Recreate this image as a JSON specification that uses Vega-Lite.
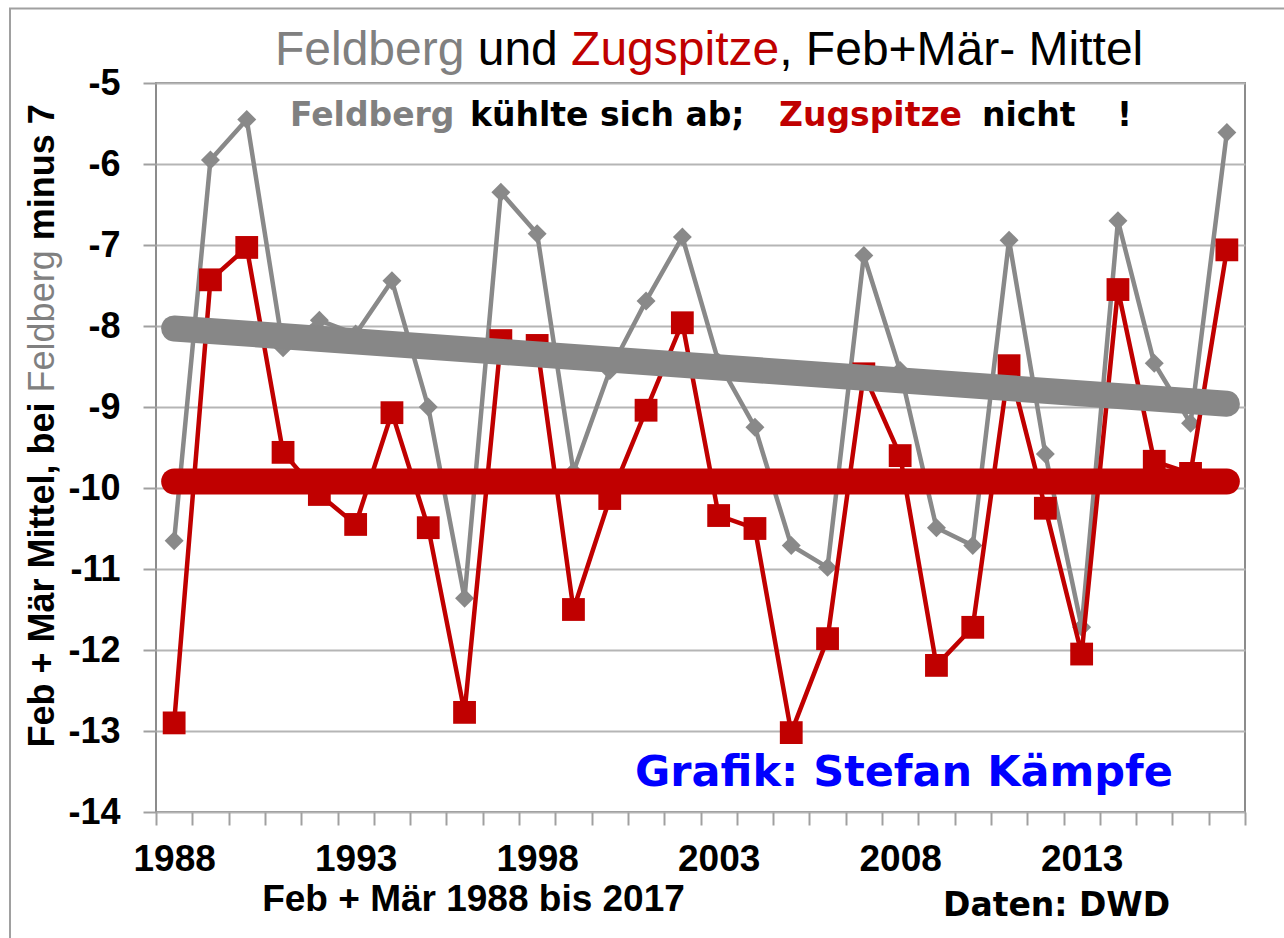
{
  "$schema": "https://vega.github.io/schema/vega-lite/v6.json",
  "width": 1089,
  "height": 729,
  "padding": {"left": 9, "top": 7, "right": 0, "bottom": 0},
  "background": "white",
  "config": {"view": {"stroke": "#8c8c8c", "strokeWidth": 2}, "font": "Liberation Sans"},
  "datasets": {
    "series": [
      {"year": 1988, "station": "Feldberg", "value": -10.65},
      {"year": 1989, "station": "Feldberg", "value": -5.95},
      {"year": 1990, "station": "Feldberg", "value": -5.45},
      {"year": 1991, "station": "Feldberg", "value": -8.27},
      {"year": 1992, "station": "Feldberg", "value": -7.93},
      {"year": 1993, "station": "Feldberg", "value": -8.1},
      {"year": 1994, "station": "Feldberg", "value": -7.44},
      {"year": 1995, "station": "Feldberg", "value": -9.0},
      {"year": 1996, "station": "Feldberg", "value": -11.36},
      {"year": 1997, "station": "Feldberg", "value": -6.35},
      {"year": 1998, "station": "Feldberg", "value": -6.86},
      {"year": 1999, "station": "Feldberg", "value": -9.8},
      {"year": 2000, "station": "Feldberg", "value": -8.55},
      {"year": 2001, "station": "Feldberg", "value": -7.69},
      {"year": 2002, "station": "Feldberg", "value": -6.9},
      {"year": 2003, "station": "Feldberg", "value": -8.45},
      {"year": 2004, "station": "Feldberg", "value": -9.25},
      {"year": 2005, "station": "Feldberg", "value": -10.71},
      {"year": 2006, "station": "Feldberg", "value": -10.98},
      {"year": 2007, "station": "Feldberg", "value": -7.13},
      {"year": 2008, "station": "Feldberg", "value": -8.55},
      {"year": 2009, "station": "Feldberg", "value": -10.49},
      {"year": 2010, "station": "Feldberg", "value": -10.71},
      {"year": 2011, "station": "Feldberg", "value": -6.94},
      {"year": 2012, "station": "Feldberg", "value": -9.58},
      {"year": 2013, "station": "Feldberg", "value": -11.72},
      {"year": 2014, "station": "Feldberg", "value": -6.7},
      {"year": 2015, "station": "Feldberg", "value": -8.46},
      {"year": 2016, "station": "Feldberg", "value": -9.2},
      {"year": 2017, "station": "Feldberg", "value": -5.61},
      {"year": 1988, "station": "Zugspitze", "value": -12.9},
      {"year": 1989, "station": "Zugspitze", "value": -7.43},
      {"year": 1990, "station": "Zugspitze", "value": -7.03},
      {"year": 1991, "station": "Zugspitze", "value": -9.56},
      {"year": 1992, "station": "Zugspitze", "value": -10.08},
      {"year": 1993, "station": "Zugspitze", "value": -10.45},
      {"year": 1994, "station": "Zugspitze", "value": -9.07},
      {"year": 1995, "station": "Zugspitze", "value": -10.49},
      {"year": 1996, "station": "Zugspitze", "value": -12.77},
      {"year": 1997, "station": "Zugspitze", "value": -8.18},
      {"year": 1998, "station": "Zugspitze", "value": -8.24},
      {"year": 1999, "station": "Zugspitze", "value": -11.5},
      {"year": 2000, "station": "Zugspitze", "value": -10.13},
      {"year": 2001, "station": "Zugspitze", "value": -9.04},
      {"year": 2002, "station": "Zugspitze", "value": -7.96},
      {"year": 2003, "station": "Zugspitze", "value": -10.34},
      {"year": 2004, "station": "Zugspitze", "value": -10.5},
      {"year": 2005, "station": "Zugspitze", "value": -13.02},
      {"year": 2006, "station": "Zugspitze", "value": -11.86},
      {"year": 2007, "station": "Zugspitze", "value": -8.59},
      {"year": 2008, "station": "Zugspitze", "value": -9.6},
      {"year": 2009, "station": "Zugspitze", "value": -12.19},
      {"year": 2010, "station": "Zugspitze", "value": -11.72},
      {"year": 2011, "station": "Zugspitze", "value": -8.49},
      {"year": 2012, "station": "Zugspitze", "value": -10.25},
      {"year": 2013, "station": "Zugspitze", "value": -12.05},
      {"year": 2014, "station": "Zugspitze", "value": -7.55},
      {"year": 2015, "station": "Zugspitze", "value": -9.67},
      {"year": 2016, "station": "Zugspitze", "value": -9.82},
      {"year": 2017, "station": "Zugspitze", "value": -7.06}
    ],
    "trend": [
      {"year": 1988, "station": "Feldberg", "value": -8.03},
      {"year": 2017, "station": "Feldberg", "value": -8.96},
      {"year": 1988, "station": "Zugspitze", "value": -9.92},
      {"year": 2017, "station": "Zugspitze", "value": -9.92}
    ]
  },
  "layer": [
    {
      "data": {"name": "series"},
      "transform": [{"filter": "datum.station == 'Feldberg'"}],
      "mark": {"type": "line", "color": "#898989", "strokeWidth": 4.5, "point": {"filled": true, "shape": "diamond", "size": 360, "color": "#898989"}},
      "encoding": {
        "x": {
          "field": "year", "type": "quantitative",
          "scale": {"domain": [1987.5, 2017.5], "nice": false, "zero": false},
          "axis": {
            "values": [1987.5, 1988.5, 1989.5, 1990.5, 1991.5, 1992.5, 1993.5, 1994.5, 1995.5, 1996.5, 1997.5, 1998.5, 1999.5, 2000.5, 2001.5, 2002.5, 2003.5, 2004.5, 2005.5, 2006.5, 2007.5, 2008.5, 2009.5, 2010.5, 2011.5, 2012.5, 2013.5, 2014.5, 2015.5, 2016.5, 2017.5],
            "tickCount": 60,
            "labelExpr": "(datum.value < 2017 && (datum.value - 1987.5) % 5 == 0) ? '' + (datum.value + 0.5) : ''",
            "labelOffset": 18.15,
            "labelOverlap": false,
            "labelBound": false,
            "labelFlush": false,
            "tickSize": 13,
            "tickColor": "#a0a0a0",
            "tickWidth": 2,
            "labelPadding": 16,
            "labelFont": "Liberation Sans",
            "labelFontSize": 37,
            "labelFontWeight": "bold",
            "labelColor": "#000000",
            "grid": false,
            "domain": false,
            "title": null
          }
        },
        "y": {
          "field": "value", "type": "quantitative",
          "scale": {"domain": [-14, -5], "nice": false, "zero": false},
          "axis": {
            "values": [-14, -13, -12, -11, -10, -9, -8, -7, -6, -5],
            "tickCount": 20,
            "labelExpr": "'' + datum.value",
            "tickSize": 13,
            "tickColor": "#a0a0a0",
            "tickWidth": 2,
            "labelPadding": 23,
            "labelFont": "Liberation Sans",
            "labelFontSize": 36,
            "labelFontWeight": "bold",
            "labelColor": "#000000",
            "labelOverlap": false,
            "grid": true,
            "gridColor": "#b5b5b5",
            "gridWidth": 2,
            "domain": false,
            "title": null
          }
        }
      }
    },
    {
      "data": {"values": [{}]},
      "mark": {"type": "rect", "filled": false, "color": "#a0a0a0", "strokeWidth": 2},
      "encoding": {
        "x": {"datum": 1983.478, "type": "quantitative"},
        "x2": {"datum": 2018.63},
        "y": {"datum": -4.08, "type": "quantitative"},
        "y2": {"datum": -15.62}
      }
    },
    {
      "data": {"name": "series"},
      "transform": [{"filter": "datum.station == 'Zugspitze'"}],
      "mark": {"type": "line", "color": "#c00000", "strokeWidth": 4.5, "point": {"filled": true, "shape": "square", "size": 520, "color": "#c00000"}},
      "encoding": {
        "x": {"field": "year", "type": "quantitative"},
        "y": {"field": "value", "type": "quantitative"}
      }
    },
    {
      "data": {"name": "trend"},
      "transform": [{"filter": "datum.station == 'Feldberg'"}],
      "mark": {"type": "line", "color": "#878787", "strokeWidth": 26, "strokeCap": "round"},
      "encoding": {
        "x": {"field": "year", "type": "quantitative"},
        "y": {"field": "value", "type": "quantitative"}
      }
    },
    {
      "data": {"name": "trend"},
      "transform": [{"filter": "datum.station == 'Zugspitze'"}],
      "mark": {"type": "line", "color": "#c00000", "strokeWidth": 26, "strokeCap": "round"},
      "encoding": {
        "x": {"field": "year", "type": "quantitative"},
        "y": {"field": "value", "type": "quantitative"}
      }
    },
    {
      "data": {"values": [{}]},
      "mark": {"type": "text", "text": "Feldberg", "font": "Liberation Sans", "fontSize": 48, "fontWeight": "normal", "color": "#808080", "align": "left", "baseline": "alphabetic"},
      "encoding": {"x": {"datum": 1990.778, "type": "quantitative"}, "y": {"datum": -4.772, "type": "quantitative"}}
    },
    {
      "data": {"values": [{}]},
      "mark": {"type": "text", "text": "und", "font": "Liberation Sans", "fontSize": 48, "fontWeight": "normal", "color": "#000000", "align": "left", "baseline": "alphabetic"},
      "encoding": {"x": {"datum": 1996.362, "type": "quantitative"}, "y": {"datum": -4.772, "type": "quantitative"}}
    },
    {
      "data": {"values": [{}]},
      "mark": {"type": "text", "text": "Zugspitze", "font": "Liberation Sans", "fontSize": 48, "fontWeight": "normal", "color": "#c00000", "align": "left", "baseline": "alphabetic"},
      "encoding": {"x": {"datum": 1998.935, "type": "quantitative"}, "y": {"datum": -4.772, "type": "quantitative"}}
    },
    {
      "data": {"values": [{}]},
      "mark": {"type": "text", "text": ", Feb+Mär- Mittel", "font": "Liberation Sans", "fontSize": 48, "fontWeight": "normal", "color": "#000000", "align": "left", "baseline": "alphabetic"},
      "encoding": {"x": {"datum": 2004.668, "type": "quantitative"}, "y": {"datum": -4.772, "type": "quantitative"}}
    },
    {
      "data": {"values": [{}]},
      "mark": {"type": "text", "text": "Feldberg", "font": "DejaVu Sans", "fontSize": 33, "fontWeight": "bold", "color": "#808080", "align": "left", "baseline": "alphabetic"},
      "encoding": {"x": {"datum": 1991.191, "type": "quantitative"}, "y": {"datum": -5.525, "type": "quantitative"}}
    },
    {
      "data": {"values": [{}]},
      "mark": {"type": "text", "text": "kühlte sich ab;", "font": "DejaVu Sans", "fontSize": 33, "fontWeight": "bold", "color": "#000000", "align": "left", "baseline": "alphabetic"},
      "encoding": {"x": {"datum": 1996.15, "type": "quantitative"}, "y": {"datum": -5.525, "type": "quantitative"}}
    },
    {
      "data": {"values": [{}]},
      "mark": {"type": "text", "text": "Zugspitze", "font": "DejaVu Sans", "fontSize": 33, "fontWeight": "bold", "color": "#c00000", "align": "left", "baseline": "alphabetic"},
      "encoding": {"x": {"datum": 2004.663, "type": "quantitative"}, "y": {"datum": -5.525, "type": "quantitative"}}
    },
    {
      "data": {"values": [{}]},
      "mark": {"type": "text", "text": "nicht", "font": "DejaVu Sans", "fontSize": 33, "fontWeight": "bold", "color": "#000000", "align": "left", "baseline": "alphabetic"},
      "encoding": {"x": {"datum": 2010.255, "type": "quantitative"}, "y": {"datum": -5.525, "type": "quantitative"}}
    },
    {
      "data": {"values": [{}]},
      "mark": {"type": "text", "text": "!", "font": "DejaVu Sans", "fontSize": 33, "fontWeight": "bold", "color": "#000000", "align": "left", "baseline": "alphabetic"},
      "encoding": {"x": {"datum": 2013.974, "type": "quantitative"}, "y": {"datum": -5.525, "type": "quantitative"}}
    },
    {
      "data": {"values": [{}]},
      "mark": {"type": "text", "text": "Grafik: Stefan Kämpfe", "font": "DejaVu Sans", "fontSize": 43, "fontWeight": "bold", "color": "#0000ff", "align": "left", "baseline": "alphabetic"},
      "encoding": {"x": {"datum": 2000.696, "type": "quantitative"}, "y": {"datum": -13.673, "type": "quantitative"}}
    },
    {
      "data": {"values": [{}]},
      "mark": {"type": "text", "text": "Daten: DWD", "font": "DejaVu Sans", "fontSize": 33, "fontWeight": "bold", "color": "#000000", "align": "left", "baseline": "alphabetic"},
      "encoding": {"x": {"datum": 2009.18, "type": "quantitative"}, "y": {"datum": -15.29, "type": "quantitative"}}
    },
    {
      "data": {"values": [{}]},
      "mark": {"type": "text", "text": "Feb + Mär 1988 bis 2017", "font": "Liberation Sans", "fontSize": 37, "fontWeight": "bold", "color": "#000000", "align": "center", "baseline": "alphabetic"},
      "encoding": {"x": {"datum": 1996.247, "type": "quantitative"}, "y": {"datum": -15.228, "type": "quantitative"}}
    },
    {
      "data": {"values": [{}]},
      "mark": {"type": "text", "text": "Feb + Mär Mittel, bei", "font": "Liberation Sans", "fontSize": 36, "fontWeight": "bold", "color": "#000000", "align": "left", "baseline": "alphabetic", "angle": 270},
      "encoding": {"x": {"datum": 1984.69, "type": "quantitative"}, "y": {"datum": -13.204, "type": "quantitative"}}
    },
    {
      "data": {"values": [{}]},
      "mark": {"type": "text", "text": "Feldberg", "font": "Liberation Sans", "fontSize": 36, "fontWeight": "normal", "color": "#808080", "align": "left", "baseline": "alphabetic", "angle": 270},
      "encoding": {"x": {"datum": 1984.69, "type": "quantitative"}, "y": {"datum": -8.82, "type": "quantitative"}}
    },
    {
      "data": {"values": [{}]},
      "mark": {"type": "text", "text": "minus 7", "font": "Liberation Sans", "fontSize": 36, "fontWeight": "bold", "color": "#000000", "align": "left", "baseline": "alphabetic", "angle": 270},
      "encoding": {"x": {"datum": 1984.69, "type": "quantitative"}, "y": {"datum": -6.942, "type": "quantitative"}}
    }
  ]
}
